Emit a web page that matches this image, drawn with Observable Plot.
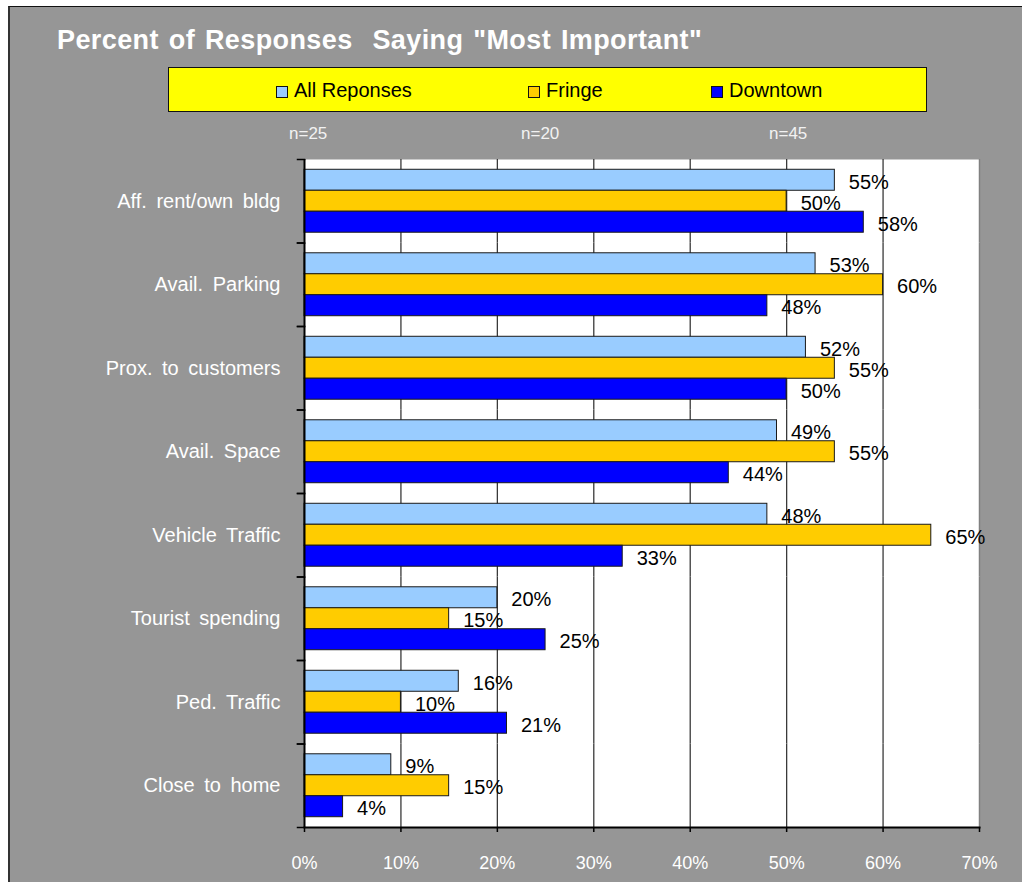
<!DOCTYPE html>
<html>
<head>
<meta charset="utf-8">
<script src="https://cdn.jsdelivr.net/npm/d3@7"></script>
<script src="https://cdn.jsdelivr.net/npm/@observablehq/plot@0.6"></script>
<style>
  body { margin: 0; background: #ffffff; font-family: "Liberation Sans", Arial, sans-serif; }
  #page { position: relative; width: 1022px; height: 882px; overflow: hidden; background: #ffffff; }
  #panel { position: absolute; left: 8px; top: 6px; right: 0; bottom: 0; background: #969696;
           border-left: 2px solid #333; border-top: 1.5px solid #111; }
  #title { position: absolute; left: 57px; top: 24px; color: #ffffff; font-weight: bold;
           font-size: 27px; letter-spacing: 0.4px; word-spacing: 2px; white-space: pre; line-height: 32px; }
  #legend { position: absolute; left: 168px; top: 67px; width: 757px; height: 43px;
            background: #ffff00; border: 1.5px solid #111; }
  .item { position: absolute; top: 1px; height: 43px; display: flex; align-items: center;
          font-size: 20px; color: #000; white-space: nowrap; }
  .swatch { width: 10px; height: 10px; border: 1px solid #111; margin-right: 6px; margin-top: 2px; }
  .count { position: absolute; top: 124px; font-size: 17px; color: #f2f2f2; line-height: 20px; }
  #chart { position: absolute; left: 0; top: 120px; }
  #chart svg { background: transparent !important; }
</style>
</head>
<body>
<div id="page">
  <div id="panel"></div>
  <div id="title"></div>
  <div id="legend"></div>
  <div id="chart"></div>
</div>
<script>
// Survey answers: share of respondents calling each factor "most important"
const categories = [
  "Aff. rent/own bldg",
  "Avail. Parking",
  "Prox. to customers",
  "Avail. Space",
  "Vehicle Traffic",
  "Tourist spending",
  "Ped. Traffic",
  "Close to home"
];
const seriesNames = ["All Reponses", "Fringe", "Downtown"];
const allResponses = [55, 53, 52, 49, 48, 20, 16, 9];
const fringe = [50, 60, 55, 55, 65, 15, 10, 15];
const downtown = [58, 48, 50, 44, 33, 25, 21, 4];
const sampleSizes = ["n=25", "n=20", "n=45"];
const xTicks = [0, 10, 20, 30, 40, 50, 60, 70];
const seriesColors = ["#99ccff", "#ffcc00", "#0000ff"];
const titleText = 'Percent of Responses  Saying "Most Important"';

// page layout (pixels)
const legendItemLeft = [107, 359, 542];   // relative to legend box
const countLeft = [289, 521, 769];
const plotLeft = 304, plotRight = 979, pageWidth = 1022;

document.getElementById("title").textContent = titleText;

const legend = document.getElementById("legend");
seriesNames.forEach((name, i) => {
  const item = document.createElement("div");
  item.className = "item";
  item.style.left = legendItemLeft[i] + "px";
  const sw = document.createElement("span");
  sw.className = "swatch";
  sw.style.background = seriesColors[i];
  const label = document.createElement("span");
  label.textContent = name;
  item.append(sw, label);
  legend.append(item);
});

const page = document.getElementById("page");
sampleSizes.forEach((t, i) => {
  const s = document.createElement("div");
  s.className = "count";
  s.style.left = countLeft[i] + "px";
  s.textContent = t;
  page.append(s);
});

const seriesValues = [allResponses, fringe, downtown];
const rows = categories.flatMap((category, i) =>
  seriesNames.map((series, j) => ({category, series, value: seriesValues[j][i]}))
);

const plotWidth = plotRight - plotLeft;

const chart = Plot.plot({
  width: pageWidth,
  height: 762,
  marginLeft: plotLeft,
  marginRight: pageWidth - plotRight,
  marginTop: 39,
  marginBottom: 55,
  style: {background: "transparent", fontFamily: "'Liberation Sans', Arial, sans-serif", overflow: "visible", wordSpacing: "4px"},
  x: {domain: [0, 70]},
  y: {domain: seriesNames, paddingInner: 0, paddingOuter: 0.49, round: false, axis: null},
  fy: {domain: categories, padding: 0, round: false},
  color: {domain: seriesNames, range: seriesColors},
  marks: [
    Plot.frame({fill: "white", facet: "super"}),
    Plot.ruleX(xTicks.filter(t => t > 0 && t < 70), {stroke: "#3a3a3a", strokeWidth: 1.3}),
    Plot.ruleX([70], {stroke: "#808080", strokeWidth: 1.5}),
    Plot.barX(rows, {x: "value", y: "series", fy: "category", fill: "series", stroke: "#1a1a1a", strokeWidth: 1}),
    Plot.text(rows, {
      x: "value", y: "series", fy: "category",
      text: d => `${d.value}%`,
      dx: 14, dy: 2, textAnchor: "start", fontSize: 20, fill: "black"
    }),
    Plot.ruleX([0], {stroke: "black", strokeWidth: 2}),
    // category boundary ticks on the left axis
    Plot.frame({anchor: "top", stroke: "black", strokeWidth: 1.5, insetLeft: -7, insetRight: plotWidth}),
    Plot.frame({anchor: "bottom", stroke: "black", strokeWidth: 1.5, insetLeft: -7, insetRight: plotWidth}),
    Plot.axisFy({anchor: "left", tickSize: 0, tickPadding: 24, fontSize: 20, color: "white", label: null}),
    Plot.axisX({
      anchor: "bottom", ticks: xTicks, tickFormat: d => `${d}%`,
      tickSize: 5, tickPadding: 24, fontSize: 18,
      stroke: "black", fill: "white", strokeWidth: 1.5, label: null
    }),
    Plot.frame({anchor: "bottom", stroke: "black", strokeWidth: 2, facet: "super"})
  ]
});

document.getElementById("chart").append(chart);
</script>
</body>
</html>
